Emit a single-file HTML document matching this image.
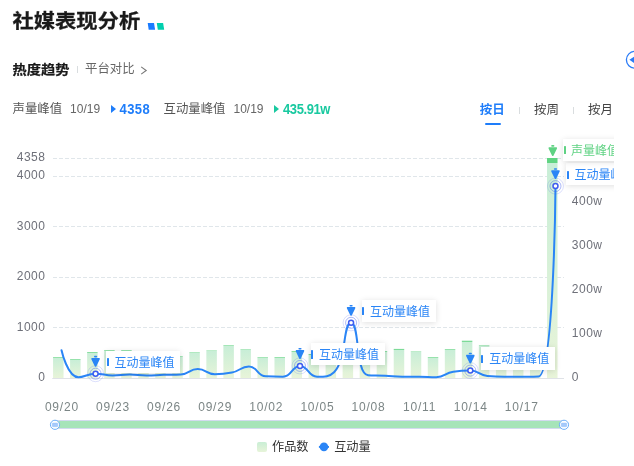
<!DOCTYPE html>
<html lang="zh-CN">
<head>
<meta charset="utf-8">
<title>社媒表现分析</title>
<style>
html,body{margin:0;padding:0;background:#fff;}
body{width:634px;height:466px;position:relative;overflow:hidden;font-family:"Liberation Sans","Noto Sans CJK SC",sans-serif;color:#1f1f1f;}
.abs{position:absolute;white-space:nowrap;}
.title{-webkit-text-stroke:0.3px #1a1a1a;left:12.4px;top:5.6px;font-size:21.3px;font-weight:700;line-height:30px;color:#1a1a1a;transform:scaleY(0.93);transform-origin:0 50%;}
.tab1{-webkit-text-stroke:0.25px #1a1a1a;left:12.6px;top:59px;font-size:14.2px;font-weight:700;line-height:20px;color:#1a1a1a;transform:scaleY(0.9);transform-origin:0 50%;}
.vdiv{width:1px;background:#d9dddf;}
.tab2{left:85px;top:59px;font-size:12.4px;line-height:20px;color:#666;}
.stat{top:99px;font-size:12.4px;line-height:20px;color:#555;}
.stat .d{color:#666;margin-left:8px;font-size:12px;letter-spacing:0px;}
.stat b{font-size:13px;font-weight:700;letter-spacing:0.4px;display:inline-block;transform:scaleY(1.1);position:relative;top:0.7px;}
.tri{display:inline-block;width:0;height:0;border-left:5.5px solid;border-top:4.5px solid transparent;border-bottom:4.5px solid transparent;margin:0 3.8px 0 10.7px;vertical-align:0px;}
.per{top:100.3px;font-size:12.5px;line-height:20px;color:#444;}
.chart{position:absolute;left:0;top:0;}
.yl,.yr,.xl{position:absolute;font-size:12px;line-height:16px;color:#6e7079;white-space:nowrap;letter-spacing:0.5px;}
.yl{right:588.6px;text-align:right;}
.yr{left:571.8px;}
.xl{top:399px;width:50px;text-align:center;text-indent:0.8px;letter-spacing:0.8px;color:#7c8686;}
.pk{position:absolute;height:22.4px;line-height:24.4px;font-size:12px;white-space:nowrap;background:#fff;box-shadow:0 1px 6px rgba(0,0,0,0.13);padding:0 6px 0 8.4px;box-sizing:border-box;width:74.4px;}
.pk i{position:absolute;left:0.6px;top:7.8px;width:2.1px;height:8.1px;border-radius:0.6px;}
.pk.blue{color:#2a85f6;} .pk.blue i{background:#2a85f6;}
.pk.green{color:#5fd283;} .pk.green i{background:#5fd283;}
.clip{position:absolute;left:614px;top:130px;width:20px;height:336px;background:#fff;}
.slider{position:absolute;left:55px;top:420px;width:509px;height:9px;background:#a6e4b9;border-top:1px solid #d3daf0;border-bottom:1px solid #d3daf0;box-sizing:border-box;}
.leg{top:436.8px;font-size:12.2px;line-height:20px;color:#333;}
</style>
</head>
<body>
<div class="abs title">社媒表现分析</div>
<svg class="abs" style="left:146px;top:22px" width="20" height="9" viewBox="146 22 20 9"><path d="M147.7,23.1 H154 L155.1,29.8 H148.7 Z" fill="#1a7bff"/><path d="M156.8,23.1 H163.1 L164.2,29.8 H157.8 Z" fill="#00cfae"/></svg>
<div class="abs tab1">热度趋势</div>
<div class="abs vdiv" style="left:77px;top:65.8px;height:7px;"></div>
<div class="abs tab2">平台对比<svg width="8" height="9" viewBox="0 0 8 9" style="margin-left:5px;vertical-align:-2.3px"><path d="M1.2,0.9 L6.2,4.5 L1.2,8.1" fill="none" stroke="#777" stroke-width="1.1"/></svg></div>
<div class="abs stat" style="left:12.5px">声量峰值<span class="d">10/19</span><span class="tri" style="color:#1e7dfa"></span><b style="color:#1e7dfa">4358</b></div>
<div class="abs stat" style="left:163.5px">互动量峰值<span class="d">10/19</span><span class="tri" style="color:#19c9a0"></span><b style="color:#19c9a0;letter-spacing:-0.4px">435.91w</b></div>
<div class="abs per" style="left:479.7px;color:#1e7dfa;font-weight:700;">按日</div>
<div class="abs" style="left:484.7px;top:122.5px;width:16.2px;height:2.6px;border-radius:1.3px;background:#1e7dfa;"></div>
<div class="abs vdiv" style="left:519px;top:106.5px;height:7.5px;"></div>
<div class="abs per" style="left:534px;">按周</div>
<div class="abs vdiv" style="left:573px;top:106.5px;height:7.5px;"></div>
<div class="abs per" style="left:588px;">按月</div>
<svg class="abs" style="left:620px;top:48px" width="14" height="24" viewBox="620 48 14 24"><circle cx="634.8" cy="59.8" r="8.4" fill="#fff" stroke="#2b7cf7" stroke-width="1.3"/><path d="M629.4,59.8 L635,56 L635,63.6 Z" fill="#2b7cf7"/></svg>
<svg class="chart" width="634" height="466" viewBox="0 0 634 466"><defs>
<linearGradient id="bg" x1="0" y1="0" x2="0" y2="1">
<stop offset="0" stop-color="#60d482"/><stop offset="0.0245" stop-color="#60d482"/>
<stop offset="0.0245" stop-color="#c8eed7"/><stop offset="1" stop-color="#e8f4d9"/>
</linearGradient>
<linearGradient id="sg" x1="0" y1="0" x2="0" y2="1">
<stop offset="0" stop-color="#7ddb98"/><stop offset="0.0245" stop-color="#7ddb98"/>
<stop offset="0.0245" stop-color="#c8eed7"/><stop offset="1" stop-color="#e8f4d9"/>
</linearGradient>
</defs><line x1="53.0" x2="564.0" y1="158.5" y2="158.5" stroke="#e0e6ea" stroke-width="1" stroke-dasharray="4 2"/><line x1="53.0" x2="564.0" y1="176.5" y2="176.5" stroke="#e0e6ea" stroke-width="1" stroke-dasharray="4 2"/><line x1="53.0" x2="564.0" y1="226.5" y2="226.5" stroke="#e0e6ea" stroke-width="1" stroke-dasharray="4 2"/><line x1="53.0" x2="564.0" y1="277.5" y2="277.5" stroke="#e0e6ea" stroke-width="1" stroke-dasharray="4 2"/><line x1="53.0" x2="564.0" y1="327.5" y2="327.5" stroke="#e0e6ea" stroke-width="1" stroke-dasharray="4 2"/><line x1="52.3" x2="564.0" y1="378.5" y2="378.5" stroke="#dfe2e7" stroke-width="1"/><rect x="53.05" y="357.20" width="10.5" height="20.80" fill="url(#sg)"/><rect x="70.08" y="359.20" width="10.5" height="18.80" fill="url(#sg)"/><rect x="87.12" y="352.10" width="10.5" height="25.90" fill="url(#sg)"/><rect x="104.15" y="350.20" width="10.5" height="27.80" fill="url(#sg)"/><rect x="121.18" y="350.20" width="10.5" height="27.80" fill="url(#sg)"/><rect x="138.22" y="354.00" width="10.5" height="24.00" fill="url(#sg)"/><rect x="155.25" y="355.00" width="10.5" height="23.00" fill="url(#sg)"/><rect x="172.28" y="356.30" width="10.5" height="21.70" fill="url(#sg)"/><rect x="189.32" y="352.40" width="10.5" height="25.60" fill="url(#sg)"/><rect x="206.35" y="350.50" width="10.5" height="27.50" fill="url(#sg)"/><rect x="223.38" y="345.30" width="10.5" height="32.70" fill="url(#sg)"/><rect x="240.42" y="349.40" width="10.5" height="28.60" fill="url(#sg)"/><rect x="257.45" y="357.30" width="10.5" height="20.70" fill="url(#sg)"/><rect x="274.48" y="357.20" width="10.5" height="20.80" fill="url(#sg)"/><rect x="291.52" y="351.10" width="10.5" height="26.90" fill="url(#sg)"/><rect x="308.55" y="354.00" width="10.5" height="24.00" fill="url(#sg)"/><rect x="325.58" y="356.00" width="10.5" height="22.00" fill="url(#sg)"/><rect x="342.62" y="350.00" width="10.5" height="28.00" fill="url(#sg)"/><rect x="359.65" y="354.00" width="10.5" height="24.00" fill="url(#sg)"/><rect x="376.68" y="351.10" width="10.5" height="26.90" fill="url(#sg)"/><rect x="393.72" y="348.90" width="10.5" height="29.10" fill="url(#sg)"/><rect x="410.75" y="351.50" width="10.5" height="26.50" fill="url(#sg)"/><rect x="427.78" y="357.20" width="10.5" height="20.80" fill="url(#sg)"/><rect x="444.82" y="349.20" width="10.5" height="28.80" fill="url(#sg)"/><rect x="461.85" y="340.70" width="10.5" height="37.30" fill="url(#sg)"/><rect x="478.88" y="345.40" width="10.5" height="32.60" fill="url(#sg)"/><rect x="495.92" y="352.00" width="10.5" height="26.00" fill="url(#sg)"/><rect x="512.95" y="355.00" width="10.5" height="23.00" fill="url(#sg)"/><rect x="529.98" y="353.00" width="10.5" height="25.00" fill="url(#sg)"/><rect x="547.02" y="158.00" width="10.5" height="220.00" fill="url(#bg)"/><path d="M61.52,350.20C61.52,350.20 67.52,377.30 78.55,377.30C84.55,377.30 87.00,373.70 95.58,373.70C104.03,373.70 104.08,375.50 112.62,375.50C121.12,375.50 121.13,374.60 129.65,374.60C138.17,374.60 138.16,375.40 146.68,375.40C155.20,375.40 155.20,375.03 163.72,374.80C172.23,374.58 172.44,374.80 180.75,374.50C189.47,374.19 189.25,369.10 197.78,369.10C206.29,369.10 206.13,374.30 214.82,374.30C223.16,374.30 223.56,374.30 231.85,372.60C240.59,370.81 240.72,366.60 248.88,366.60C257.75,366.60 256.80,375.84 265.92,376.30C273.84,376.70 275.15,376.70 282.95,376.70C292.18,376.70 291.47,365.90 299.98,365.90C308.50,365.90 307.92,376.70 317.02,376.70C324.95,376.70 329.77,376.70 334.05,372.30C346.80,359.21 342.79,322.80 351.08,322.80C359.83,322.80 355.10,373.68 368.12,375.30C372.13,375.80 376.64,375.45 385.15,375.80C393.67,376.15 393.66,376.70 402.18,376.70C410.69,376.70 410.70,376.70 419.22,376.70C427.74,376.70 427.94,377.20 436.25,377.20C444.97,377.20 444.57,373.06 453.28,371.80C461.61,370.60 461.99,370.60 470.32,370.60C479.03,370.60 478.63,375.16 487.35,376.00C495.67,376.80 495.86,376.80 504.38,376.80C512.90,376.80 512.90,376.80 521.42,376.80C529.93,376.80 537.06,376.80 538.45,376.60C554.09,374.35 555.48,186.10 555.48,186.10" fill="none" stroke="#2a85f6" stroke-width="2" stroke-linejoin="round" stroke-linecap="round"/><circle cx="95.58" cy="373.70" r="8" fill="none" stroke="#4a63f0" stroke-opacity="0.22" stroke-width="0.9"/><circle cx="95.58" cy="373.70" r="5.5" fill="none" stroke="#4a63f0" stroke-opacity="0.45" stroke-width="1"/><circle cx="95.58" cy="373.70" r="2.5" fill="#fff" stroke="#3f5cf0" stroke-width="1.5"/><g fill="#2a85f6"><path d="M91.68,357.90 h7.8 q0.7,0.5 0.2,1.5 l-3.3,6.8 q-0.8,1 -1.6,0 l-3.3,-6.8 q-0.5,-1 0.2,-1.5 z"/><rect x="93.98" y="355.80" width="3.2" height="1.6" rx="0.8"/></g><circle cx="299.98" cy="365.90" r="8" fill="none" stroke="#4a63f0" stroke-opacity="0.22" stroke-width="0.9"/><circle cx="299.98" cy="365.90" r="5.5" fill="none" stroke="#4a63f0" stroke-opacity="0.45" stroke-width="1"/><circle cx="299.98" cy="365.90" r="2.5" fill="#fff" stroke="#3f5cf0" stroke-width="1.5"/><g fill="#2a85f6"><path d="M296.08,350.10 h7.8 q0.7,0.5 0.2,1.5 l-3.3,6.8 q-0.8,1 -1.6,0 l-3.3,-6.8 q-0.5,-1 0.2,-1.5 z"/><rect x="298.38" y="348.00" width="3.2" height="1.6" rx="0.8"/></g><circle cx="351.08" cy="322.80" r="8" fill="none" stroke="#4a63f0" stroke-opacity="0.22" stroke-width="0.9"/><circle cx="351.08" cy="322.80" r="5.5" fill="none" stroke="#4a63f0" stroke-opacity="0.45" stroke-width="1"/><circle cx="351.08" cy="322.80" r="2.5" fill="#fff" stroke="#3f5cf0" stroke-width="1.5"/><g fill="#2a85f6"><path d="M347.18,307.00 h7.8 q0.7,0.5 0.2,1.5 l-3.3,6.8 q-0.8,1 -1.6,0 l-3.3,-6.8 q-0.5,-1 0.2,-1.5 z"/><rect x="349.48" y="304.90" width="3.2" height="1.6" rx="0.8"/></g><circle cx="470.32" cy="370.60" r="8" fill="none" stroke="#4a63f0" stroke-opacity="0.22" stroke-width="0.9"/><circle cx="470.32" cy="370.60" r="5.5" fill="none" stroke="#4a63f0" stroke-opacity="0.45" stroke-width="1"/><circle cx="470.32" cy="370.60" r="2.5" fill="#fff" stroke="#3f5cf0" stroke-width="1.5"/><g fill="#2a85f6"><path d="M466.42,354.80 h7.8 q0.7,0.5 0.2,1.5 l-3.3,6.8 q-0.8,1 -1.6,0 l-3.3,-6.8 q-0.5,-1 0.2,-1.5 z"/><rect x="468.72" y="352.70" width="3.2" height="1.6" rx="0.8"/></g><circle cx="555.48" cy="186.10" r="8" fill="none" stroke="#4a63f0" stroke-opacity="0.22" stroke-width="0.9"/><circle cx="555.48" cy="186.10" r="5.5" fill="none" stroke="#4a63f0" stroke-opacity="0.45" stroke-width="1"/><circle cx="555.48" cy="186.10" r="2.5" fill="#fff" stroke="#3f5cf0" stroke-width="1.5"/><g fill="#2a85f6"><path d="M551.58,170.30 h7.8 q0.7,0.5 0.2,1.5 l-3.3,6.8 q-0.8,1 -1.6,0 l-3.3,-6.8 q-0.5,-1 0.2,-1.5 z"/><rect x="553.88" y="168.20" width="3.2" height="1.6" rx="0.8"/></g><g fill="#5fd283"><path d="M548.88,147.20 h7.8 q0.7,0.5 0.2,1.5 l-3.3,6.8 q-0.8,1 -1.6,0 l-3.3,-6.8 q-0.5,-1 0.2,-1.5 z"/><rect x="551.18" y="145.10" width="3.2" height="1.6" rx="0.8"/></g></svg>
<div class="yl" style="top:149.2px">4358</div><div class="yl" style="top:167.3px">4000</div><div class="yl" style="top:217.8px">3000</div><div class="yl" style="top:268.2px">2000</div><div class="yl" style="top:318.7px">1000</div><div class="yl" style="top:369.2px">0</div><div class="yr" style="top:193.2px">400w</div><div class="yr" style="top:237.2px">300w</div><div class="yr" style="top:281.2px">200w</div><div class="yr" style="top:325.2px">100w</div><div class="yr" style="top:369.2px">0</div><div class="xl" style="left:36.5px">09/20</div><div class="xl" style="left:87.6px">09/23</div><div class="xl" style="left:138.7px">09/26</div><div class="xl" style="left:189.8px">09/29</div><div class="xl" style="left:240.9px">10/02</div><div class="xl" style="left:292.0px">10/05</div><div class="xl" style="left:343.1px">10/08</div><div class="xl" style="left:394.2px">10/11</div><div class="xl" style="left:445.3px">10/14</div><div class="xl" style="left:496.4px">10/17</div>
<div class="pk blue" style="left:106.1px;top:350.5px"><i></i>互动量峰值</div><div class="pk blue" style="left:310.5px;top:342.7px"><i></i>互动量峰值</div><div class="pk blue" style="left:361.6px;top:299.6px"><i></i>互动量峰值</div><div class="pk blue" style="left:480.8px;top:347.4px"><i></i>互动量峰值</div><div class="pk blue" style="left:566.0px;top:162.9px"><i></i>互动量峰值</div><div class="pk green" style="left:563.3px;top:138.5px;padding-left:7.8px"><i></i>声量峰值</div>
<div class="clip"></div>
<div class="slider"></div>
<svg class="abs" style="left:48px;top:418px" width="14" height="14" viewBox="0 0 14 14"><circle cx="7" cy="6.8" r="4.6" fill="#fff" stroke="#6db0f9" stroke-width="1"/><rect x="4.2" y="5" width="5.6" height="3.7" rx="0.8" fill="#a5cafb" stroke="#8dbaf8" stroke-width="0.4"/></svg>
<svg class="abs" style="left:557px;top:418px" width="14" height="14" viewBox="0 0 14 14"><circle cx="7" cy="6.8" r="4.6" fill="#fff" stroke="#6db0f9" stroke-width="1"/><rect x="4.2" y="5" width="5.6" height="3.7" rx="0.8" fill="#a5cafb" stroke="#8dbaf8" stroke-width="0.4"/></svg>
<div class="abs" style="left:257px;top:441.5px;width:10px;height:10.5px;border-radius:2px;background:linear-gradient(#c9eed5,#e7f4d9);"></div>
<div class="abs leg" style="left:272px">作品数</div>
<svg class="abs" style="left:318px;top:441px" width="13" height="12" viewBox="0 0 13 12"><line x1="0.9" y1="5.9" x2="11" y2="5.9" stroke="#2a85f6" stroke-width="1.9"/><circle cx="5.95" cy="5.85" r="4.3" fill="#2a85f6"/></svg>
<div class="abs leg" style="left:334.2px">互动量</div>
</body>
</html>
